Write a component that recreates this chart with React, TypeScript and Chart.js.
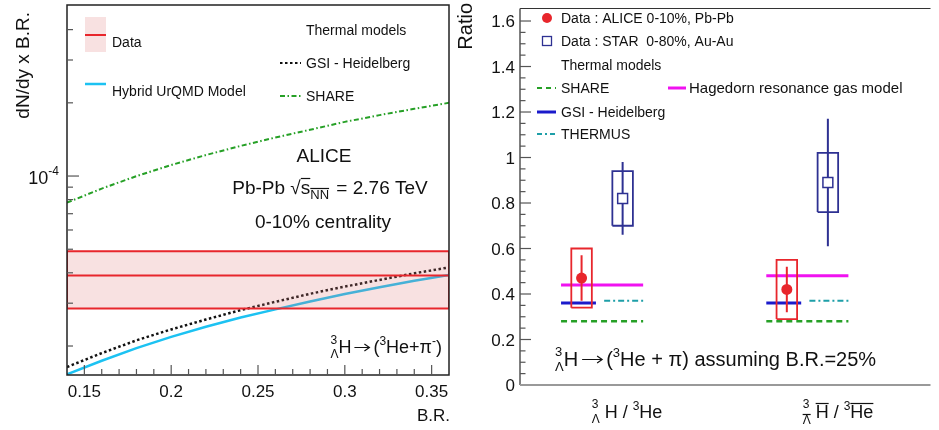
import React, { useEffect, useRef } from "react";
import { Chart, registerables } from "chart.js";

Chart.register(...registerables);

const FONT = '"Liberation Sans", Arial, Helvetica, sans-serif';

// ---------------- Left panel data ----------------
const brValues = [0.14, 0.16, 0.18, 0.2, 0.22, 0.24, 0.26, 0.28, 0.3, 0.32, 0.34, 0.36];
const gsiYield = [1.64e-5, 1.87e-5, 2.11e-5, 2.34e-5, 2.57e-5, 2.81e-5, 3.04e-5, 3.28e-5, 3.51e-5, 3.74e-5, 3.98e-5, 4.21e-5];
const urqmdYield = [1.53e-5, 1.74e-5, 1.96e-5, 2.18e-5, 2.4e-5, 2.62e-5, 2.83e-5, 3.05e-5, 3.27e-5, 3.49e-5, 3.71e-5, 3.92e-5];
const shareYield = [7.77e-5, 8.88e-5, 9.99e-5, 1.11e-4, 1.22e-4, 1.33e-4, 1.44e-4, 1.55e-4, 1.67e-4, 1.78e-4, 1.89e-4, 2.0e-4];
const dataYield = 3.9e-5;
const dataYieldLow = 2.85e-5;
const dataYieldHigh = 4.9e-5;
const brRange = [0.14, 0.36];
const yieldRange = [1.52e-5, 5.05e-4];
const xTickLabels = ["0.15", "0.2", "0.25", "0.3", "0.35"];
const yMinorTicks = [2e-5, 3e-5, 4e-5, 5e-5, 6e-5, 7e-5, 8e-5, 9e-5, 2e-4, 3e-4, 4e-4];

// ---------------- Right panel data ----------------
const catPos = [1, 2];
const aliceRatio = [0.47, 0.42];
const aliceStatLo = [0.37, 0.32];
const aliceStatHi = [0.57, 0.52];
const aliceSysLo = [0.34, 0.29];
const aliceSysHi = [0.6, 0.55];
const starRatio = [0.82, 0.89];
const starStatLo = [0.66, 0.61];
const starStatHi = [0.98, 1.17];
const starSysLo = [0.7, 0.76];
const starSysHi = [0.94, 1.02];
const shareRatio = [0.28, 0.28];
const gsiRatio = [0.36, 0.36];
const thermusRatio = [0.37, 0.37];
const hagedornRatio = [0.44, 0.48];
const ratioTickLabels = ["0", "0.2", "0.4", "0.6", "0.8", "1", "1.2", "1.4", "1.6"];

// styles
const RED = "#E8262C";
const NAVY = "#2E3192";
const BLUE = "#1A1ACB";
const MAGENTA = "#F012F0";
const TEAL = "#1E9FA8";
const GREEN = "#26A026";
const CYAN = "#1CC2F2";
const BAND = "rgba(225,120,120,0.22)";
const aliceShift = -0.2;
const boxHalf = 0.05;

type Seg = { t: string; s: number; dy?: number; ol?: boolean; stay?: boolean; gap?: number; arrow?: number };

function segMeasure(ctx: CanvasRenderingContext2D, g: Seg) {
  if (g.arrow) return g.arrow;
  ctx.font = `${g.s}px ${FONT}`;
  return ctx.measureText(g.t).width;
}

function segWidth(ctx: CanvasRenderingContext2D, segs: Seg[]) {
  let w = 0;
  for (const g of segs) {
    const m = segMeasure(ctx, g);
    if (!g.stay) w += m + (g.gap || 0);
  }
  return w;
}

function drawRich(ctx: CanvasRenderingContext2D, segs: Seg[], x: number, y: number, align: string, color = "#111") {
  const w = segWidth(ctx, segs);
  let cx = align === "center" ? x - w / 2 : align === "right" ? x - w : x;
  ctx.save();
  ctx.fillStyle = color;
  ctx.strokeStyle = color;
  ctx.textAlign = "left";
  ctx.textBaseline = "alphabetic";
  for (const g of segs) {
    const m = segMeasure(ctx, g);
    if (g.arrow) {
      const ay = Math.round(y - g.s * 0.34) + 0.5;
      ctx.lineWidth = 1.2;
      ctx.beginPath();
      ctx.moveTo(cx, ay);
      ctx.lineTo(cx + m, ay);
      ctx.moveTo(cx + m - 5, ay - 3.5);
      ctx.lineTo(cx + m, ay);
      ctx.lineTo(cx + m - 5, ay + 3.5);
      ctx.stroke();
    } else {
      ctx.font = `${g.s}px ${FONT}`;
      ctx.fillText(g.t, cx, y + (g.dy || 0));
    }
    if (g.ol) {
      const oy = Math.round(y + (g.dy || 0) - g.s * 0.84) + 0.5;
      ctx.lineWidth = 1.2;
      ctx.beginPath();
      ctx.moveTo(cx, oy);
      ctx.lineTo(cx + m, oy);
      ctx.stroke();
    }
    if (!g.stay) cx += m + (g.gap || 0);
  }
  ctx.restore();
}

function seg(ctx: CanvasRenderingContext2D, x1: number, y1: number, x2: number, y2: number, color: string, width: number, dash: number[] = []) {
  ctx.save();
  ctx.strokeStyle = color;
  ctx.lineWidth = width;
  ctx.setLineDash(dash);
  ctx.beginPath();
  ctx.moveTo(x1, y1);
  ctx.lineTo(x2, y2);
  ctx.stroke();
  ctx.restore();
}

function text(ctx: CanvasRenderingContext2D, t: string, x: number, y: number, size: number, align: CanvasTextAlign = "left", color = "#111") {
  ctx.save();
  ctx.font = `${size}px ${FONT}`;
  ctx.fillStyle = color;
  ctx.textAlign = align;
  ctx.textBaseline = "alphabetic";
  ctx.fillText(t, x, y);
  ctx.restore();
}

const GSI_DASH = [2.5, 2.5];
const SHARE_LEFT_DASH = [5, 2.5, 1.5, 2.5];

const leftDecor = {
  id: "leftDecor",
  afterDraw(chart: any) {
    const ctx: CanvasRenderingContext2D = chart.ctx;
    const { left, right, top, bottom } = chart.chartArea;
    const xs = chart.scales.x;
    const ys = chart.scales.y;
    ctx.save();
    // frame
    ctx.strokeStyle = "#222";
    ctx.lineWidth = 1.5;
    ctx.strokeRect(left, top, right - left, bottom - top);
    // y ticks
    for (const v of yMinorTicks) {
      const py = ys.getPixelForValue(v);
      if (py < top + 2 || py > bottom - 2) continue;
      seg(ctx, left, py, left + 6, py, "#555", 1.2);
    }
    const p4 = ys.getPixelForValue(1e-4);
    seg(ctx, left, p4, left + 12, p4, "#555", 1.2);
    // x ticks
    for (let i = 14; i <= 36; i++) {
      const px = xs.getPixelForValue(i / 100);
      if (px < left + 2 || px > right - 2) continue;
      const len = i % 5 === 0 ? 10 : 6;
      seg(ctx, px, bottom, px, bottom - len, "#555", 1.2);
    }
    // x tick labels
    xTickLabels.forEach((lab) => {
      const px = xs.getPixelForValue(parseFloat(lab));
      text(ctx, lab, px, 397, 17, "center");
    });
    // y tick label 10^-4
    drawRich(ctx, [{ t: "10", s: 18 }, { t: "-4", s: 12, dy: -9 }], 59, p4 + 8, "right");
    // axis titles
    text(ctx, "B.R.", 450, 421, 17, "right");
    ctx.save();
    ctx.translate(29, 12);
    ctx.rotate(-Math.PI / 2);
    text(ctx, "dN/dy x B.R.", 0, 0, 19, "right");
    ctx.restore();

    // legend
    ctx.fillStyle = BAND;
    ctx.fillRect(85, 17, 21, 35);
    seg(ctx, 85, 35, 106, 35, RED, 2);
    text(ctx, "Data", 112, 47, 14);
    seg(ctx, 85, 84, 106, 84, CYAN, 2.5);
    text(ctx, "Hybrid UrQMD Model", 112, 96, 14);
    text(ctx, "Thermal models", 306, 35, 14);
    seg(ctx, 280, 63, 301, 63, "#111", 2, GSI_DASH);
    text(ctx, "GSI - Heidelberg", 306, 68, 14);
    seg(ctx, 280, 96, 301, 96, GREEN, 2, SHARE_LEFT_DASH);
    text(ctx, "SHARE", 306, 101, 14);

    // annotations
    text(ctx, "ALICE", 324, 162, 19, "center");
    drawRich(
      ctx,
      [
        { t: "Pb-Pb ", s: 19 },
        { t: "\u221A", s: 19 },
        { t: "s", s: 19, ol: true },
        { t: "NN", s: 13, dy: 5, ol: true, gap: 2 },
        { t: " = 2.76 TeV", s: 19 },
      ],
      330,
      194,
      "center"
    );
    text(ctx, "0-10% centrality", 323, 228, 19, "center");
    drawRich(
      ctx,
      [
        { t: "3", s: 12, dy: -9, stay: true },
        { t: "\u039B", s: 12, dy: 5 },
        { t: "H", s: 18, gap: 3 },
        { t: "", s: 18, arrow: 15, gap: 4 },
        { t: "(", s: 18 },
        { t: "3", s: 12, dy: -8 },
        { t: "He+\u03C0", s: 18 },
        { t: "-", s: 12, dy: -8 },
        { t: ")", s: 18 },
      ],
      442,
      353,
      "right"
    );
    ctx.restore();
  },
};

const OX = 455;

const rightDecor = {
  id: "rightDecor",
  afterDraw(chart: any) {
    const ctx: CanvasRenderingContext2D = chart.ctx;
    const { left, right, top, bottom } = chart.chartArea;
    const ys = chart.scales.y;
    ctx.save();
    // frame
    seg(ctx, left, top, right, top, "#333", 1.2);
    seg(ctx, left, top, left, bottom, "#555", 1.5);
    seg(ctx, left, bottom, right, bottom, "#999", 2);
    // y ticks
    for (let i = 0; i <= 33; i++) {
      const v = i * 0.05;
      const py = ys.getPixelForValue(v);
      if (py < top + 2 || py > bottom - 1) continue;
      const len = i % 4 === 0 ? 11 : 5.5;
      seg(ctx, left, py, left + len, py, "#555", 1.2);
    }
    ratioTickLabels.forEach((lab) => {
      const py = ys.getPixelForValue(parseFloat(lab));
      text(ctx, lab, left - 5, py + 6, 17, "right");
    });

    ctx.translate(-OX, 0);
    // Y title
    ctx.save();
    ctx.translate(472, 3);
    ctx.rotate(-Math.PI / 2);
    text(ctx, "Ratio", 0, 0, 20, "right");
    ctx.restore();

    // legend
    ctx.fillStyle = RED;
    ctx.beginPath();
    ctx.arc(547, 18, 5, 0, Math.PI * 2);
    ctx.fill();
    text(ctx, "Data : ALICE 0-10%, Pb-Pb", 561, 23, 14);
    ctx.strokeStyle = NAVY;
    ctx.lineWidth = 1.3;
    ctx.strokeRect(542.5, 36.5, 9, 9);
    text(ctx, "Data : STAR  0-80%, Au-Au", 561, 46, 14);
    text(ctx, "Thermal models", 561, 70, 14);
    seg(ctx, 537, 88, 556, 88, GREEN, 2, [5, 4]);
    text(ctx, "SHARE", 561, 93, 14);
    seg(ctx, 668, 88, 686, 88, MAGENTA, 3);
    text(ctx, "Hagedorn resonance gas model", 689, 93, 15);
    seg(ctx, 537, 112, 556, 112, BLUE, 3);
    text(ctx, "GSI - Heidelberg", 561, 117, 14);
    seg(ctx, 537, 134, 556, 134, TEAL, 2, [5, 3, 2, 3]);
    text(ctx, "THERMUS", 561, 139, 14);

    // annotation
    drawRich(
      ctx,
      [
        { t: "3", s: 13, dy: -10, stay: true },
        { t: "\u039B", s: 13, dy: 5 },
        { t: "H", s: 20, gap: 4 },
        { t: "", s: 20, arrow: 20, gap: 4 },
        { t: "(", s: 20 },
        { t: "3", s: 13, dy: -9 },
        { t: "He + \u03C0) assuming B.R.=25%", s: 20 },
      ],
      555,
      366,
      "left"
    );

    // category labels
    drawRich(
      ctx,
      [
        { t: "3", s: 12, dy: -10, stay: true },
        { t: "\u039B", s: 12, dy: 5, gap: 5 },
        { t: "H / ", s: 18 },
        { t: "3", s: 12, dy: -8 },
        { t: "He", s: 18 },
      ],
      627,
      418,
      "center"
    );
    drawRich(
      ctx,
      [
        { t: "3", s: 12, dy: -10, stay: true },
        { t: "\u039B", s: 12, dy: 6, ol: true, gap: 5 },
        { t: "H", s: 18, ol: true },
        { t: " / ", s: 18 },
        { t: "3", s: 12, dy: -8 },
        { t: "He", s: 18, ol: true },
      ],
      838,
      418,
      "center"
    );
    ctx.restore();
  },
};

function lineDs(data: { x: number; y: number }[], color: string, width: number, dash: number[] = [], extra: any = {}) {
  return {
    data,
    showLine: true,
    borderColor: color,
    borderWidth: width,
    borderDash: dash,
    pointRadius: 0,
    fill: false,
    tension: 0,
    ...extra,
  };
}

function leftConfig(): any {
  const x0 = brRange[0];
  const x1 = brRange[1];
  const datasets = [
    lineDs([{ x: x0, y: dataYield }, { x: x1, y: dataYield }], RED, 2),
    lineDs(
      [
        { x: x0, y: dataYieldLow },
        { x: x0, y: dataYieldHigh },
        { x: x1, y: dataYieldHigh },
        { x: x1, y: dataYieldLow },
        { x: x0, y: dataYieldLow },
      ],
      RED,
      2,
      [],
      { fill: "shape", backgroundColor: BAND }
    ),
    lineDs(brValues.map((x, i) => ({ x, y: gsiYield[i] })), "#111", 2.5, GSI_DASH),
    lineDs(brValues.map((x, i) => ({ x, y: urqmdYield[i] })), CYAN, 2.5),
    lineDs(brValues.map((x, i) => ({ x, y: shareYield[i] })), GREEN, 2, SHARE_LEFT_DASH),
  ];
  return {
    type: "scatter",
    data: { datasets },
    options: {
      animation: false,
      responsive: false,
      devicePixelRatio: 1,
      layout: { padding: { left: 0, top: 5, right: 6, bottom: 0 } },
      plugins: { legend: { display: false }, tooltip: { enabled: false } },
      scales: {
        x: {
          type: "linear",
          min: brRange[0],
          max: brRange[1],
          ticks: { display: false },
          grid: { display: false },
          border: { display: false },
          afterFit: (s: any) => {
            s.height = 55;
          },
        },
        y: {
          type: "logarithmic",
          min: yieldRange[0],
          max: yieldRange[1],
          ticks: { display: false },
          grid: { display: false },
          border: { display: false },
          afterFit: (s: any) => {
            s.width = 67;
          },
        },
      },
    },
    plugins: [leftDecor],
  };
}

function rightConfig(): any {
  const datasets: any[] = [];
  // markers
  datasets.push({
    data: catPos.map((c, i) => ({ x: c + aliceShift, y: aliceRatio[i] })),
    pointRadius: 5.5,
    pointBackgroundColor: RED,
    pointBorderColor: RED,
    pointBorderWidth: 0,
    showLine: false,
  });
  datasets.push({
    data: catPos.map((c, i) => ({ x: c, y: starRatio[i] })),
    pointStyle: "rect",
    pointRadius: 7,
    pointBackgroundColor: "#fff",
    pointBorderColor: NAVY,
    pointBorderWidth: 1.5,
    showLine: false,
  });
  catPos.forEach((c, i) => {
    const xa = c + aliceShift;
    datasets.push(lineDs([{ x: xa, y: aliceStatLo[i] }, { x: xa, y: aliceStatHi[i] }], RED, 2));
    datasets.push(
      lineDs(
        [
          { x: xa - boxHalf, y: aliceSysLo[i] },
          { x: xa - boxHalf, y: aliceSysHi[i] },
          { x: xa + boxHalf, y: aliceSysHi[i] },
          { x: xa + boxHalf, y: aliceSysLo[i] },
          { x: xa - boxHalf, y: aliceSysLo[i] },
        ],
        RED,
        1.8
      )
    );
    datasets.push(lineDs([{ x: c, y: starStatLo[i] }, { x: c, y: starStatHi[i] }], NAVY, 2));
    datasets.push(
      lineDs(
        [
          { x: c - boxHalf, y: starSysLo[i] },
          { x: c - boxHalf, y: starSysHi[i] },
          { x: c + boxHalf, y: starSysHi[i] },
          { x: c + boxHalf, y: starSysLo[i] },
          { x: c - boxHalf, y: starSysLo[i] },
        ],
        NAVY,
        1.8
      )
    );
  });
  catPos.forEach((c, i) => {
    datasets.push(lineDs([{ x: c - 0.3, y: hagedornRatio[i] }, { x: c + 0.1, y: hagedornRatio[i] }], MAGENTA, 3));
    datasets.push(lineDs([{ x: c - 0.3, y: gsiRatio[i] }, { x: c - 0.13, y: gsiRatio[i] }], BLUE, 3));
    datasets.push(lineDs([{ x: c - 0.09, y: thermusRatio[i] }, { x: c + 0.1, y: thermusRatio[i] }], TEAL, 2, [6, 3, 2, 3]));
    datasets.push(lineDs([{ x: c - 0.3, y: shareRatio[i] }, { x: c + 0.1, y: shareRatio[i] }], GREEN, 2.5, [6, 4]));
  });
  return {
    type: "scatter",
    data: { datasets },
    options: {
      animation: false,
      responsive: false,
      devicePixelRatio: 1,
      layout: { padding: { left: 0, top: 3, right: 0, bottom: 0 } },
      plugins: { legend: { display: false }, tooltip: { enabled: false } },
      scales: {
        x: {
          type: "linear",
          min: 0.5,
          max: 2.5,
          ticks: { display: false },
          grid: { display: false },
          border: { display: false },
          afterFit: (s: any) => {
            s.height = 45;
          },
        },
        y: {
          type: "linear",
          min: 0,
          max: 1.655,
          ticks: { display: false },
          grid: { display: false },
          border: { display: false },
          afterFit: (s: any) => {
            s.width = 65;
          },
        },
      },
    },
    plugins: [rightDecor],
  };
}

export default function App() {
  const lref = useRef<HTMLCanvasElement>(null);
  const rref = useRef<HTMLCanvasElement>(null);
  useEffect(() => {
    const l = new Chart(lref.current as HTMLCanvasElement, leftConfig());
    const r = new Chart(rref.current as HTMLCanvasElement, rightConfig());
    return () => {
      l.destroy();
      r.destroy();
    };
  }, []);
  return (
    <div style={{ position: "absolute", left: 0, top: 0, width: 939, height: 430, background: "#fff", overflow: "hidden" }}>
      <canvas ref={lref} width={455} height={430} style={{ position: "absolute", left: 0, top: 0, width: 455, height: 430 }} />
      <canvas ref={rref} width={484} height={430} style={{ position: "absolute", left: OX, top: 0, width: 484, height: 430 }} />
    </div>
  );
}
